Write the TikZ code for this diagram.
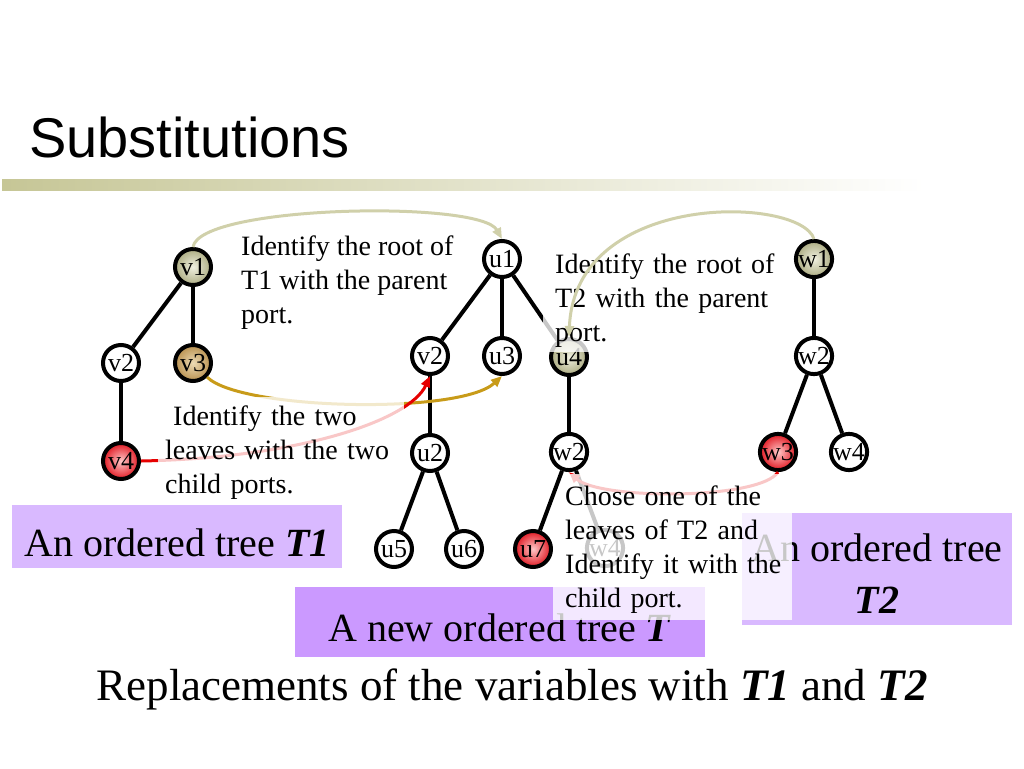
\documentclass[tikz,border=0pt]{standalone}
\usepackage{fontspec}
\setmainfont{Liberation Serif}
\newfontfamily\headfont{Liberation Sans}
\usetikzlibrary{arrows.meta}
\definecolor{olivedk}{RGB}{172,172,130}
\definecolor{olivelt}{RGB}{240,240,225}
\definecolor{tandk}{RGB}{185,145,80}
\definecolor{tanlt}{RGB}{236,218,180}
\definecolor{reddk}{RGB}{225,25,35}
\definecolor{redlt}{RGB}{255,200,200}
\definecolor{arrolive}{RGB}{208,208,170}
\definecolor{arrgold}{RGB}{200,155,25}
\definecolor{arrred}{RGB}{230,0,0}
\definecolor{boxpale}{RGB}{217,185,255}
\definecolor{boxdeep}{RGB}{203,153,255}
\definecolor{barolive}{RGB}{198,198,150}

\begin{document}
\begin{tikzpicture}
  [ x=1pt, y=-1pt,
    nd/.style={circle, draw=black, line width=4pt, minimum size=36pt, inner sep=0pt, fill=white, font=\fontsize{26}{26}\selectfont},
    ndolive/.style={nd, inner color=olivelt, outer color=olivedk},
    ndtan/.style={nd, inner color=tanlt, outer color=tandk},
    ndred/.style={nd, inner color=redlt, outer color=reddk},
    line/.style={-, line width=4pt, black},
    arr/.style={-{Triangle[length=11pt,width=9pt]}, line width=3pt},
    note/.style={align=left, inner sep=0pt, font=\fontsize{28}{34}\selectfont},
    veil/.style={note, anchor=north west, fill=white, fill opacity=0.78, text opacity=1},
    tbox/.style={inner sep=0pt, font=\fontsize{40}{52}\selectfont}
  ]
  \useasboundingbox (0,0) rectangle (1024,768);

  \shade[left color=barolive, right color=white] (2,179) rectangle (925,190);
  \node[font=\headfont\fontsize{56}{60}\selectfont, anchor=base west, inner sep=0pt] (title) at (29,157) {Substitutions};

  % T1
  \node[ndolive] (v1) at (193,267) {v1};
  \node[nd] (v2) at (121,363) {v2};
  \node[ndtan] (v3) at (193,363) {v3};
  \node[ndred] (v4) at (121,461) {v4};

  % new tree
  \node[nd] (u1) at (502,259) {u1};
  \node[nd] (mv2) at (430,356) {v2};
  \node[nd] (u3) at (502,356) {u3};
  \node[ndolive] (u4) at (569,357) {u4};
  \node[nd] (u2) at (430,453) {u2};
  \node[nd] (mw2) at (569,452) {w2};
  \node[nd] (u5) at (394,549) {u5};
  \node[nd] (u6) at (464,549) {u6};
  \node[ndred] (u7) at (533,549) {u7};
  \node[nd] (mw4) at (605,548) {w4};

  % T2
  \node[ndolive] (w1) at (814,259) {w1};
  \node[nd] (w2) at (814,356) {w2};
  \node[ndred] (w3) at (778,452) {w3};
  \node[nd] (w4) at (849,452) {w4};

  \draw [line] (v1) -- (v2);
  \draw [line] (v1) -- (v3);
  \draw [line] (v2) -- (v4);
  \draw [line] (u1) -- (mv2);
  \draw [line] (u1) -- (u3);
  \draw [line] (u1) -- (u4);
  \draw [line] (mv2) -- (u2);
  \draw [line] (u2) -- (u5);
  \draw [line] (u2) -- (u6);
  \draw [line] (u4) -- (mw2);
  \draw [line] (mw2) -- (mw4);
  \draw [line] (w1) -- (w2);
  \draw [line] (w2) -- (w3);
  \draw [line] (w2) -- (w4);

  \node[tbox, fill=boxpale, anchor=base, minimum width=330pt, text height=51pt, text depth=12pt] (treeone) at (177,556) {An ordered tree \textbf{\textit{T1}}};
  \node[tbox, fill=boxdeep, anchor=base, minimum width=410pt, text height=54pt, text depth=16pt] (treenew) at (500,641) {A new ordered tree \textbf{\textit{T}}};
  \node[tbox, fill=boxpale, align=center, minimum width=270pt, minimum height=112pt] (treetwo) at (877,569) {\strut An ordered tree\\\textbf{\textit{T2}}};

  \draw [arr, arrgold] (v3.south east) .. controls (240,410) and (460,415) .. (u3.south);
  \draw [arr, arrred] (v4.east) .. controls (300,458) and (410,420) .. (mv2.south);
  \draw [arr, arrred] (w3.south) .. controls (760,500) and (600,500) .. (mw2.south);

  \node[veil, text width=232pt, inner xsep=7pt, inner ysep=4pt] (twoleaves) at (158,397) {\strut\mbox{\hspace*{8pt}Identify the two}\\\mbox{leaves with the two}\\\mbox{child ports.}};
  \node[veil, text width=212pt, inner xsep=12pt, inner ysep=1pt] (roottwo) at (543,248) {\strut\mbox{Identify the root of}\\\mbox{T2 with the parent}\\\strut\mbox{port.}};
  \node[veil, text width=215pt, inner xsep=12pt, inner ysep=7pt] (chose) at (553,474) {\strut\mbox{Chose one of the}\\\mbox{leaves of T2 and}\\\mbox{Identify it with the}\\\mbox{child port.}};

  \draw [line] (mw2) -- (u7);

  \node[note, anchor=north west] (rootone) at (241,231) {\strut Identify the root of\\T1 with the parent\\port.};
  \draw [arr, arrolive] (v1.north) .. controls (200,205) and (480,200) .. (u1.north);
  \draw [arr, arrolive] (w1.north) .. controls (800,196) and (575,190) .. (u4.north);

  \node[font=\fontsize{45}{54}\selectfont, anchor=base, inner sep=0pt] (caption) at (512,700) {Replacements of the variables with \textbf{\textit{T1}} and \textbf{\textit{T2}}};
\end{tikzpicture}
\end{document}
